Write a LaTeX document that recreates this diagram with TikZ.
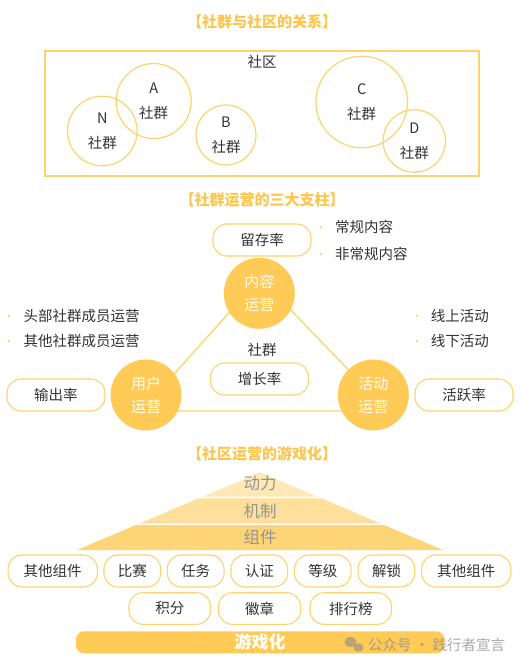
\documentclass[tikz,border=0pt]{standalone}
\usepackage{fontspec}
\setmainfont{Noto Sans CJK SC}
\usetikzlibrary{calc}
\definecolor{gold}{HTML}{FFCA55}
\definecolor{goldline}{HTML}{FFD36C}
\definecolor{goldtitle}{HTML}{FDC64E}
\definecolor{txt}{HTML}{333333}
\definecolor{lvlA}{HTML}{FEE8B5}
\definecolor{lvlB}{HTML}{FEDF9B}
\definecolor{lvlC}{HTML}{FDD577}
\tikzset{
  titre/.style={text=goldtitle,font=\fontsize{15}{18}\selectfont\bfseries},
  mot/.style={text=txt,font=\fontsize{14.5}{18}\selectfont,inner sep=0pt},
  groupe/.style={circle,draw=goldline,line width=1.2pt,inner sep=0pt},
  pilier/.style={circle,fill=gold,text=white,align=center,inner sep=0pt,
    minimum size=71pt,font=\fontsize{15}{23}\selectfont},
  taux/.style={rounded corners=14pt,draw=goldline,line width=1.1pt,
    minimum width=98pt,minimum height=32pt,text=txt,font=\fontsize{14.5}{18}\selectfont},
  puce/.style={circle,fill=goldline,inner sep=0pt,minimum size=2.6pt},
  item/.style={anchor=west,text=txt,font=\fontsize{14.5}{18}\selectfont,inner sep=0pt},
  couche/.style={text=black!42,font=\fontsize{16.5}{18}\selectfont,inner sep=0pt},
}
\begin{document}
\begin{tikzpicture}[x=1pt,y=-1pt]
  \useasboundingbox[fill=white] (0,0) rectangle (524,667);
  %SOCIETE ET GROUPES
  \node[titre] (t1) at (262,22) {【社群与社区的关系】};
  \draw[goldline,line width=1.4pt] (45,51) rectangle (479,176);
  \node[mot] (sq) at (262,62) {社区};
  \node[groupe,minimum size=75pt] (A) at (153.7,101) {};
  \node[groupe,minimum size=69.6pt] (N) at (102.3,131) {};
  \node[groupe,minimum size=60pt] (B) at (226,135) {};
  \node[groupe,minimum size=91.6pt] (C) at (361.7,102) {};
  \node[groupe,minimum size=62.4pt] (D) at (414.3,141) {};
  \foreach \g in {A,N,B,C,D}{
    \node[mot] (l\g) at ($(\g)+(0,-13)$) {\g};
    \node[mot] (s\g) at ($(\g)+(0,12)$) {社群};
  }
  %TROIS PILIERS
  \node[titre] (t2) at (262,200) {【社群运营的三大支柱】};
  \coordinate (T1) at (260,278);
  \coordinate (T2) at (141,411);
  \coordinate (T3) at (388,411);
  \draw[goldline,line width=1.3pt] (T1) -- (T2) -- (T3) -- cycle;
  \node[pilier] (nr) at (259.3,293.3) {内容\\运营};
  \node[pilier] (yh) at (146,395) {用户\\运营};
  \node[pilier] (hd) at (373.3,395) {活动\\运营};
  \node[mot] (sg) at (262,350) {社群};
  \node[taux] (zz) at (259.5,379) {增长率};
  \node[taux] (lc) at (262,240) {留存率};
  \node[taux] (sc) at (56,395) {输出率};
  \node[taux] (hy) at (464,395) {活跃率};
  \node[puce] (p1) at (320.7,227.3) {};
  \node[item] (i1) at (335,227.3) {常规内容};
  \node[puce] (p2) at (320.7,254.3) {};
  \node[item] (i2) at (335,254.3) {非常规内容};
  \node[puce] (p3) at (9,315.7) {};
  \node[item] (i3) at (23.3,315.7) {头部社群成员运营};
  \node[puce] (p4) at (9,341) {};
  \node[item] (i4) at (23.3,341) {其他社群成员运营};
  \node[puce] (p5) at (416.7,315.7) {};
  \node[item] (i5) at (430.7,315.7) {线上活动};
  \node[puce] (p6) at (416.7,341) {};
  \node[item] (i6) at (430.7,341) {线下活动};
  %GAMIFICATION
  \node[titre] (t3) at (262,454) {【社区运营的游戏化】};
  \fill[lvlA] (260,472.3) -- (317.5,496.7) -- (202.5,496.7) -- cycle;
  \fill[lvlB] (198.7,498.3) -- (321.3,498.3) -- (381,523.7) -- (139,523.7) -- cycle;
  \fill[lvlC] (135.9,525) -- (384.1,525) -- (443,550) -- (77,550) -- cycle;
  \node[couche] (dl) at (260,483.5) {动力};
  \node[couche] (jz) at (260,511) {机制};
  \node[couche] (zj) at (260,537.5) {组件};
  \node[taux,minimum width=89.3pt] (k1) at (52.7,571) {其他组件};
  \node[taux,minimum width=56.7pt] (k2) at (132.3,571) {比赛};
  \node[taux,minimum width=56.7pt] (k3) at (195.7,571) {任务};
  \node[taux,minimum width=56.7pt] (k4) at (259.3,571) {认证};
  \node[taux,minimum width=56.7pt] (k5) at (322.8,571) {等级};
  \node[taux,minimum width=56.7pt] (k6) at (386.5,571) {解锁};
  \node[taux,minimum width=89.3pt] (k7) at (466.3,571) {其他组件};
  \node[taux,minimum width=81.7pt,minimum height=31.6pt] (m1) at (169.8,608.5) {积分};
  \node[taux,minimum width=82.4pt,minimum height=31.6pt] (m2) at (259.5,608.5) {徽章};
  \node[taux,minimum width=81.7pt,minimum height=31.6pt] (m3) at (350.8,608.5) {排行榜};
  \node[fill=gold,rounded corners=8pt,minimum width=368.3pt,minimum height=22pt,
    inner sep=0pt,text=white,font=\fontsize{17}{18}\selectfont\bfseries] (yx) at (260.2,642.3) {游戏化};
  %FILIGRANE
  \fill[black!45,opacity=.6] (350.5,642) ellipse (6pt and 5pt);
  \fill[black!45,opacity=.6] (358.5,647.5) ellipse (5pt and 4.2pt);
  \node[text=black!45,opacity=.75,font=\fontsize{14.5}{18}\selectfont,inner sep=0pt]
    (wm) at (436.5,645) {公众号 · 践行者宣言};
\end{tikzpicture}
\end{document}
